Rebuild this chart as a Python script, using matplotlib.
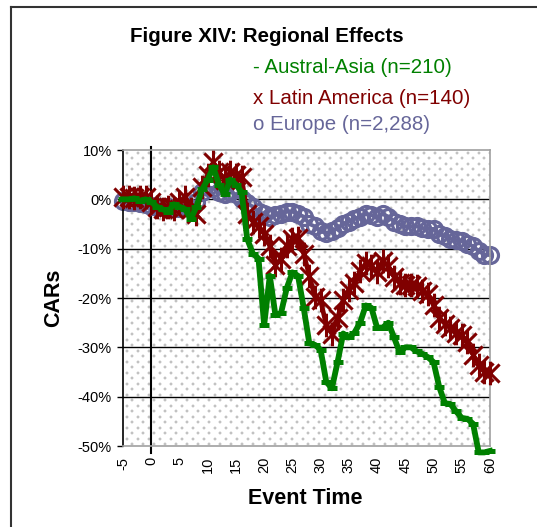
import matplotlib
matplotlib.use("Agg")
import matplotlib.pyplot as plt
from matplotlib.path import Path
from matplotlib.lines import Line2D
import numpy as np

plt.rcParams['font.family'] = ['Liberation Sans', 'DejaVu Sans']

event_time = list(range(-5, 61))

austral_asia = [0, 0, 0.2, -0.3, 0, -0.5, -1.5, -2, -2.5, -1, -1.5, -2, -4, -1.5, 2,
                4, 6.5, 3, 1, 4, 3, 1.5, -8, -11, -12, -25.5, -15.5, -23.5, -23, -18,
                -14.8, -15.5, -22, -29.2, -29.5, -30.5, -37, -38.3, -33, -27.2, -28, -27,
                -25, -21.5, -22, -26, -26, -25, -28, -31, -30, -30, -30.8, -31.3, -32,
                -33, -38, -41.3, -41.5, -43, -44.3, -44.5, -45.5, -51.3, -51.3, -51]

latin_america = [0.5, 0.5, 0.3, 0.5, 0.5, -0.5, -1.5, -2, -1.5, -2, -0.5, 0.5, -2, -3,
                 2.5, 5, 7.5, 5.5, 4, 5.5, 5, 4.5, -3, -4.5, -5.5, -7, -9.5, -13.4, -12,
                 -9.5, -8, -7.8, -11, -15.5, -19.8, -20.5, -25.5, -27.2, -24, -20.4, -18.4,
                 -17, -14.5, -13, -13.5, -14.7, -12.5, -13.5, -15.7, -17, -17.4, -17.4,
                 -17.6, -18.5, -19.2, -21.5, -24, -25.2, -26, -27, -27.5, -29, -31.5,
                 -33.5, -35, -35.3]

europe = [-0.3, -0.5, -0.6, -0.8, -1.0, -1.3, -1.5, -1.6, -1.6, -1.8, -1.8, -1.5, -1.8,
          -0.5, 1.5, 2.5, 2.2, 1.5, 1.0, 1.5, 1.0, 0, -0.8, -1.5, -2.5, -3.0, -3.5, -3.2,
          -3.0, -2.5, -2.5, -3.0, -3.5, -5.0, -5.5, -6.5, -6.8, -6.5, -5.8, -5.0, -4.5,
          -4.0, -3.5, -3.0, -3.2, -3.5, -3.0, -3.5, -4.5, -5.0, -5.5, -5.5, -5.5, -5.8,
          -6.0, -6.0, -7.0, -7.5, -8.0, -8.3, -8.5, -9.0, -9.5, -10.5, -11.2, -11.3]

x_ticks = list(range(-5, 61, 5))
y_ticks = [10, 0, -10, -20, -30, -40, -50]

title = "Figure XIV: Regional Effects"
legend_labels = ["- Austral-Asia (n=210)", "x Latin America (n=140)", "o Europe (n=2,288)"]

GREEN = "#008000"
RED = "#800000"
BLUE = "#666699"

fig = plt.figure(figsize=(5.37, 5.27), dpi=100)
W, H = 537, 527

def fx(px):
    return px / W

def fy(py):
    return 1 - py / H

# outer frame (left and top visible)
fig.add_artist(Line2D([fx(11), fx(11)], [fy(7), 0], color="#333333", lw=1.5))
fig.add_artist(Line2D([fx(11), 1], [fy(7), fy(7)], color="#333333", lw=1.5))

ax = fig.add_axes([fx(123), fy(446), fx(490) - fx(123), fy(150) - fy(446)])
ax.set_facecolor("white")

# dotted background texture of the plot area
ph, pw = 296, 367
tex = np.ones((ph, pw))
for r, yy in enumerate(np.arange(2.0, ph, 5.5)):
    off = 0.0 if r % 2 == 0 else 5.5
    for xx in np.arange(3.0 + off, pw, 11.0):
        yi, xi = int(yy), int(xx)
        tex[yi:yi + 2, xi:xi + 2] = 0.76
        if yi - 1 >= 0:
            tex[yi - 1, xi:xi + 2] = np.minimum(tex[yi - 1, xi:xi + 2], 0.92)
        if yi + 2 < ph:
            tex[yi + 2, xi:xi + 2] = np.minimum(tex[yi + 2, xi:xi + 2], 0.92)
        if xi - 1 >= 0:
            tex[yi:yi + 2, xi - 1] = np.minimum(tex[yi:yi + 2, xi - 1], 0.92)
        if xi + 2 < pw:
            tex[yi:yi + 2, xi + 2] = np.minimum(tex[yi:yi + 2, xi + 2], 0.92)
ax.imshow(tex, cmap="gray", vmin=0, vmax=1, extent=(0, 1, 0, 1), transform=ax.transAxes,
          aspect="auto", interpolation="nearest", zorder=0)

ax.set_xlim(-5, 60)
ax.set_ylim(-50, 10)

for v in y_ticks[1:-1]:
    ax.axhline(v, color="black", lw=1, zorder=1)

ax.plot([0, 0], [10.7, -51.4], color="black", lw=1.5, zorder=1.5, clip_on=False)

# star marker for Latin America
star = Path([(-1, -1), (1, 1), (-1, 1), (1, -1), (0, -1.3), (0, 1.3)],
            [Path.MOVETO, Path.LINETO, Path.MOVETO, Path.LINETO, Path.MOVETO, Path.LINETO])

ax.plot(event_time, europe, color=BLUE, lw=2.8, marker="o", ms=11.5, mfc="none",
        mec=BLUE, mew=2.3, zorder=2, clip_on=False)
ax.plot(event_time, latin_america, color=RED, lw=3.4, marker=star, ms=17, mec=RED,
        mew=2.2, zorder=3, clip_on=False)
ax.plot(event_time, austral_asia, color=GREEN, lw=4.2, marker="_", ms=7, mec=GREEN,
        mew=3.6, zorder=4, clip_on=False, solid_joinstyle="round")

for s in ["top", "right", "bottom"]:
    ax.spines[s].set_color("#a0a0a0")
    ax.spines[s].set_linewidth(1.2)
ax.spines["left"].set_color("black")
ax.spines["left"].set_linewidth(1.2)

ax.set_yticks(y_ticks)
ax.set_yticklabels([f"{v}%" for v in y_ticks], fontsize=10.5)
ax.tick_params(axis="y", direction="out", length=4, width=1, pad=4, colors="black")
ax.set_xticks(x_ticks)
ax.set_xticklabels([str(v) for v in x_ticks], rotation=90, fontsize=10.5)
ax.tick_params(axis="x", length=0, pad=8)

fig.text(fx(54), fy(298), "CARs", fontsize=15.5, fontweight="bold", rotation=90,
         ha="center", va="center")
fig.text(fx(305), fy(499), "Event Time", fontsize=15.5, fontweight="bold",
         ha="center", va="center")

fig.text(fx(267), fy(36), title, fontsize=14.8, fontweight="bold", ha="center", va="center")
for lbl, col, yy in zip(legend_labels, [GREEN, RED, BLUE], [67, 98, 125]):
    fig.text(fx(253), fy(yy), lbl, fontsize=14.8, color=col, ha="left", va="center")

fig.savefig("out.png", dpi=100)
